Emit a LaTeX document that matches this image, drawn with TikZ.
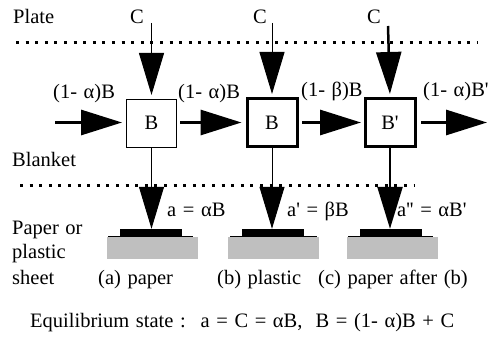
\documentclass[tikz,border=0pt]{standalone}
\usepackage{fontspec}
\setmainfont{Liberation Serif}
\usetikzlibrary{arrows.meta}
\newcommand\mylblfont{\fontsize{20.5}{24}\selectfont\spaceskip 6.6pt\relax}
\begin{document}
\begin{tikzpicture}[x=1pt,y=-1pt,
  lbl/.style={anchor=base west,inner sep=0pt,font=\mylblfont},
  box/.style={draw,inner sep=0pt,minimum width=50pt,minimum height=48pt,font=\mylblfont},
  thinbox/.style={box,line width=1pt},
  thickbox/.style={box,line width=3pt},
  harrow/.style={line width=3pt,-{Triangle[length=41pt,width=25pt]}},
  varrow/.style={line width=1pt,-{Triangle[length=42pt,width=25pt]}},
  vtharrow/.style={line width=2.5pt,-{Triangle[length=42pt,width=25pt]}},
  dotline/.style={line width=3pt,dash pattern=on 3pt off 6.6pt},
  sheet/.style={fill=gray!50,inner sep=0pt,minimum width=91pt,minimum height=22pt},
  ink/.style={fill=black,inner sep=0pt,minimum width=62pt,minimum height=8pt}]
\useasboundingbox (0,0) rectangle (492,337);
% texts
\node[lbl] (plate) at (13,24) {Plate};
\node[lbl] (blanket) at (12,166) {Blanket};
\node[lbl] (paperor) at (12,234) {Paper or};
\node[lbl] (plastic) at (12,258) {plastic};
\node[lbl] (sheettxt) at (12,284) {sheet};
\node[lbl] (c1t) at (130,24) {C};
\node[lbl] (c2t) at (253,24) {C};
\node[lbl] (c3t) at (367,24) {C};
% dotted lines
\draw[dotline] (16,43) -- (478,43);
\draw[dotline] (20,185) -- (415,185);
% boxes
\node[thinbox] (b1) at (151.5,123) {B};
\node[thickbox] (b2) at (272,122.5) {B};
\node[thickbox] (b3) at (390,122.5) {B\textquotesingle};
% flow labels
\node[lbl] (f1) at (53,98) {(1- α)B};
\node[lbl] (f2) at (178,98) {(1- α)B};
\node[lbl] (f3) at (301,96) {(1- β)B};
\node[lbl] (f4) at (423,96) {(1- α)B\textquotesingle};
% horizontal arrows
\coordinate (hin) at (55,122.5);
\coordinate (hout) at (487,122.5);
\draw[harrow,shorten >=4pt] (hin) -- (b1.west |- hin);
\draw[harrow,shorten <=3pt,shorten >=4pt] (b1.east |- hin) -- (b2.west |- hin);
\draw[harrow,shorten <=3.5pt,shorten >=2.5pt] (b2.east) -- (b3.west);
\draw[harrow,shorten <=4.5pt] (b3.east) -- (hout);
% C arrows
\coordinate (c1) at (151.5,23);
\coordinate (c2) at (272,23);
\coordinate (c3) at (388,26);
\draw[varrow,shorten >=3.5pt] (c1) -- (b1.north);
\draw[varrow,shorten >=3pt] (c2) -- (b2.north);
\draw[vtharrow,shorten >=3pt] (c3) -- (b3.north);
% paper sheets
\node[sheet] (s1) at (152.5,248) {};
\node[sheet] (s2) at (273,248) {};
\node[sheet] (s3) at (392.5,248) {};
\draw[line width=1pt] (108,236.5) -- (193,236.5);
\draw[line width=1pt] (230,236.5) -- (317,236.5);
\draw[line width=1pt] (348,236.5) -- (433,236.5);
\node[ink] (i1) at (151,233) {};
\node[ink] (i2) at (273,233) {};
\node[ink] (i3) at (391,233) {};
% lower arrows
\draw[varrow] (b1.south) -- (b1.south |- i1.north);
\draw[varrow] (b2.south) -- (b2.south |- i2.north);
\draw[vtharrow] (b3.south) -- (b3.south |- i3.north);
% lower labels
\node[lbl] (a1) at (167,216) {a = αB};
\node[lbl] (a2) at (287,216) {a\textquotesingle{} = βB};
\node[lbl] (a3) at (397,216) {a\textquotesingle\textquotesingle{} = αB\textquotesingle};
\node[lbl] (cap1) at (98,284) {(a) paper};
\node[lbl] (cap2) at (217,284) {(b) plastic};
\node[lbl] (cap3) at (318,284) {(c) paper after (b)};
\node[lbl] (eq) at (30,327) {Equilibrium state :~ a = C = αB,~ B = (1- α)B + C};
\end{tikzpicture}
\end{document}
